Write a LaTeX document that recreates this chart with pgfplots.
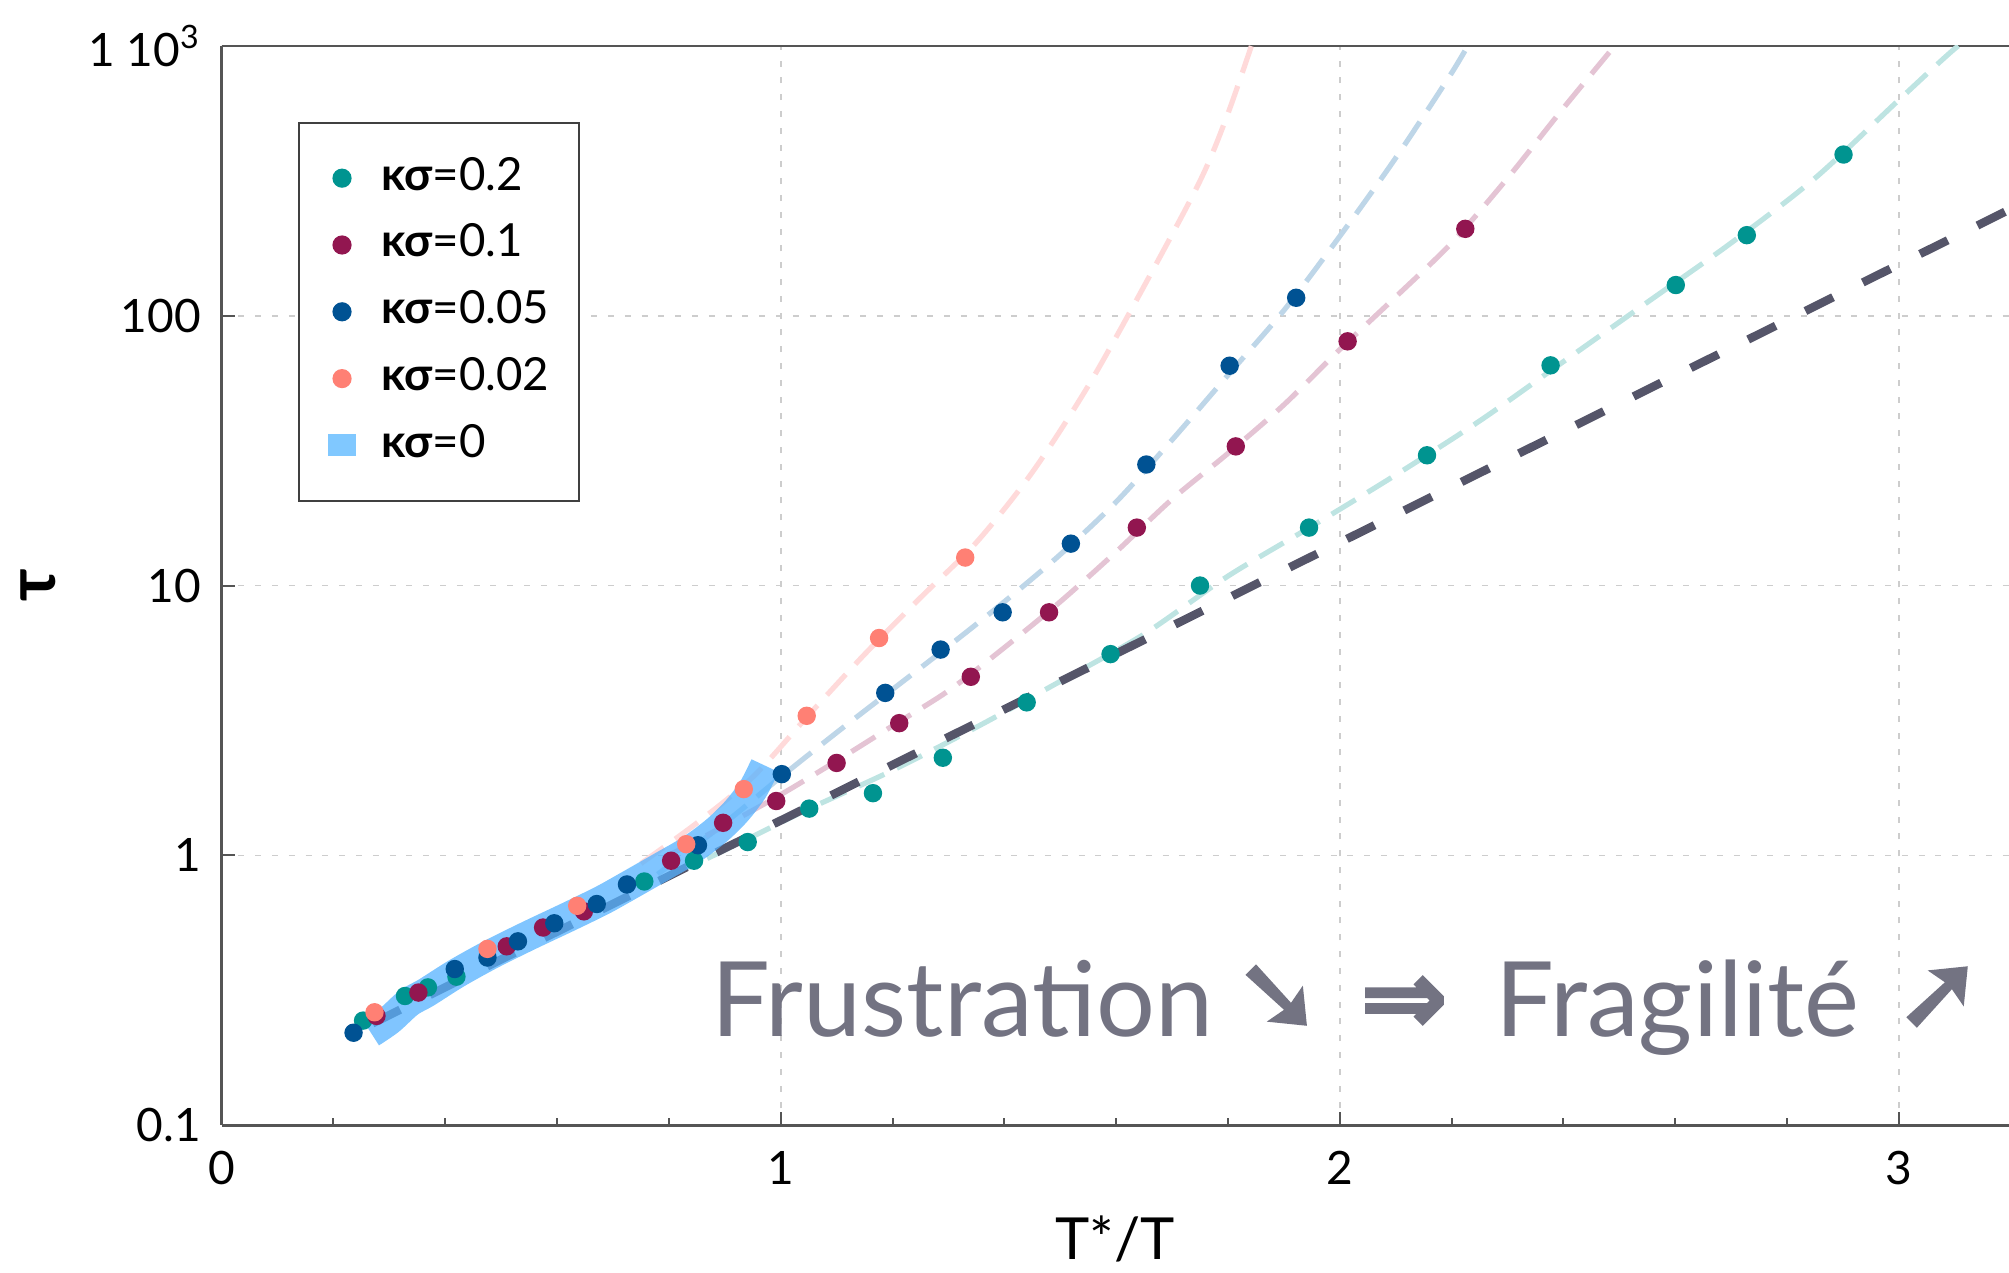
\documentclass[border=0pt]{standalone}
\usepackage{fontspec}
\setmainfont{Lato}
\newfontfamily\arrowfont{DejaVu Sans Bold}[FakeBold=2.5]
\usepackage{pgfplots}
\pgfplotsset{compat=1.18}
\usetikzlibrary{calc}

\definecolor{cteal}{RGB}{0,148,144}
\definecolor{cmaroon}{RGB}{146,22,80}
\definecolor{cblue}{RGB}{0,82,147}
\definecolor{csalmon}{RGB}{255,128,116}
\definecolor{cband}{RGB}{85,178,255}
\definecolor{cbandl}{RGB}{128,200,255}
\definecolor{lteal}{RGB}{190,228,226}
\definecolor{lblue}{RGB}{190,214,232}
\definecolor{lmaroon}{RGB}{228,196,212}
\definecolor{lpink}{RGB}{255,218,218}
\definecolor{cdark}{RGB}{85,85,105}
\definecolor{annoc}{RGB}{115,115,130}
\definecolor{cgrid}{RGB}{205,205,205}
\definecolor{caxis}{RGB}{85,85,85}

\begin{document}
\begin{tikzpicture}
\begin{axis}[
  name=ax, at={(0pt,0pt)}, anchor=south west,
  scale only axis, width=446.8pt, height=269.75pt,
  xmin=0, xmax=3.197, ymin=0.1, ymax=1000, ymode=log,
  axis x line*=box, axis y line*=left,
  axis line style={draw=caxis, line width=0.7pt},
  tick pos=left, tick align=inside,
  xtick={0,1,2,3}, xticklabels={0,1,2,3},
  minor x tick num=4,
  ytick={0.1,1,10,100,1000}, yticklabels={0.1,1,10,100,{1 10\textsuperscript{3}}},
  yminorticks=false,
  major tick length=3.3pt, minor tick length=1.8pt,
  every tick/.style={caxis, line width=0.5pt},
  xmajorgrids, ymajorgrids,
  major grid style={cgrid, line width=0.4pt, dash pattern=on 1.5pt off 2.7pt},
  tick label style={font=\fontsize{11.5}{13}\selectfont, text=black},
  xticklabel style={anchor=base, yshift=-14.75pt},
  yticklabel style={anchor=east, inner sep=0pt, xshift=-5pt},
  xlabel={T*/T}, ylabel={\textbf{τ}},
  every axis x label/.style={at={(axis description cs:0.5,0)}, anchor=base, yshift=-33.5pt, font=\fontsize{14.5}{16}\selectfont},
  every axis y label/.style={at={(axis description cs:0,0.5)}, xshift=-45.9pt, rotate=90, anchor=center, font=\fontsize{17}{19}\selectfont},
  legend cell align=left,
  legend style={at={(axis description cs:0.04286,0.92994)}, anchor=north west,
    draw=black!75, line width=0.5pt, fill=white,
    inner xsep=2pt, inner ysep=7.9pt, row sep=4.7pt, column sep=0.5pt,
    font=\fontsize{11.4}{13}\selectfont,
    nodes={inner sep=1pt, text height=8pt, text depth=2pt}},
]
% legend
\addlegendimage{legend image code/.code={\path[draw=none,fill=none] (0pt,-2pt) rectangle (17pt,2pt); \fill[cteal, draw=none] (8.7pt,0pt) circle (2.4pt);}}
\addlegendentry{\makebox[46.5pt][l]{\textbf{κσ}=0.2}}
\addlegendimage{legend image code/.code={\path[draw=none,fill=none] (0pt,-2pt) rectangle (17pt,2pt); \fill[cmaroon, draw=none] (8.7pt,0pt) circle (2.4pt);}}
\addlegendentry{\textbf{κσ}=0.1}
\addlegendimage{legend image code/.code={\path[draw=none,fill=none] (0pt,-2pt) rectangle (17pt,2pt); \fill[cblue, draw=none] (8.7pt,0pt) circle (2.4pt);}}
\addlegendentry{\textbf{κσ}=0.05}
\addlegendimage{legend image code/.code={\path[draw=none,fill=none] (0pt,-2pt) rectangle (17pt,2pt); \fill[csalmon, draw=none] (8.7pt,0pt) circle (2.4pt);}}
\addlegendentry{\textbf{κσ}=0.02}
\addlegendimage{legend image code/.code={\path[draw=none,fill=none] (0pt,-2pt) rectangle (17pt,2pt); \fill[cbandl, draw=none] (5.2pt,-2.75pt) rectangle (12.2pt,2.75pt);}}
\addlegendentry{\textbf{κσ}=0}

% fits (light dashed)
\addplot[lpink, line width=1.3pt, dash pattern=on 7pt off 3.5pt, smooth, forget plot] coordinates {
(0.75,0.933) (0.85,1.318) (0.95,1.950) (1.05,3.311) (1.15,5.559) (1.25,9.016) (1.35,14.45) (1.45,26.30) (1.55,54.95) (1.65,128.8) (1.75,316.2) (1.80,562.3) (1.85,1122)};
\addplot[lblue, line width=1.3pt, dash pattern=on 7pt off 3.5pt, smooth, forget plot] coordinates {
(0.78,0.851) (0.90,1.318) (1.00,1.950) (1.10,2.851) (1.20,4.121) (1.30,5.957) (1.40,8.710) (1.50,13.03) (1.60,20.42) (1.70,34.67) (1.80,60.26) (1.90,104.7) (2.00,197.2) (2.10,384.6) (2.20,794.3) (2.24,1100)};
\addplot[lmaroon, line width=1.3pt, dash pattern=on 7pt off 3.5pt, smooth, forget plot] coordinates {
(0.80,1.0) (0.90,1.288) (1.00,1.679) (1.10,2.239) (1.20,3.020) (1.30,4.074) (1.40,5.888) (1.50,8.710) (1.60,13.34) (1.70,20.89) (1.80,30.90) (1.90,46.77) (2.00,74.99) (2.10,117.5) (2.20,186.2) (2.30,323.6) (2.40,588.8) (2.50,1050)};
\addplot[lteal, line width=1.3pt, dash pattern=on 7pt off 3.5pt, smooth, forget plot] coordinates {
(0.80,0.841) (0.86,0.955) (0.95,1.175) (1.05,1.486) (1.20,2.065) (1.35,2.985) (1.50,4.416) (1.65,6.607) (1.80,10.84) (1.95,16.60) (2.10,25.70) (2.25,40.74) (2.40,67.61) (2.55,112.2) (2.70,186.2) (2.85,323.6) (3.00,631.0) (3.10,977.2) (3.15,1150)};
% Arrhenius line
\addplot[cdark, line width=2.1pt, dash pattern=on 7.7pt off 8.3pt, forget plot] coordinates {(0.27,0.2383) (3.3,315.5)};

% data
\addplot[only marks, mark=*, mark size=2.1pt, color=cteal, mark options={draw=none}, forget plot] coordinates {
(0.253,0.244) (0.328,0.301) (0.369,0.324) (0.420,0.355) (0.756,0.80) (0.845,0.955) (0.941,1.12) (1.051,1.49) (1.165,1.70) (1.290,2.30) (1.440,3.69) (1.590,5.57) (1.750,10.0) (1.945,16.4) (2.156,30.4) (2.377,65.5) (2.601,130) (2.728,199) (2.901,396)};
\addplot[only marks, mark=*, mark size=2.1pt, color=cmaroon, mark options={draw=none}, forget plot] coordinates {
(0.277,0.254) (0.352,0.31) (0.51,0.46) (0.575,0.54) (0.648,0.62) (0.804,0.955) (0.897,1.32) (0.992,1.59) (1.100,2.20) (1.212,3.09) (1.340,4.59) (1.480,7.96) (1.637,16.4) (1.814,32.8) (2.014,80.4) (2.2245,210)};
\addplot[only marks, mark=*, mark size=2.1pt, color=cblue, mark options={draw=none}, forget plot] coordinates {
(0.236,0.220) (0.417,0.379) (0.4755,0.418) (0.530,0.48) (0.595,0.56) (0.671,0.66) (0.725,0.78) (0.852,1.09) (1.002,2.0) (1.187,4.0) (1.286,5.79) (1.397,7.96) (1.519,14.3) (1.654,28.1) (1.803,65.3) (1.922,116.6)};
\addplot[only marks, mark=*, mark size=2.1pt, color=csalmon, mark options={draw=none}, forget plot] coordinates {
(0.2735,0.262) (0.4755,0.45) (0.636,0.65) (0.831,1.10) (0.934,1.76) (1.0465,3.29) (1.176,6.39) (1.330,12.7)};

% kappa sigma = 0 band
\addplot[cband, opacity=0.75, line width=7.5pt, line cap=butt, line join=round, smooth, forget plot] coordinates {
(0.267,0.220) (0.30,0.245) (0.335,0.285) (0.366,0.31) (0.42,0.365) (0.482,0.43) (0.55,0.505) (0.619,0.59) (0.68,0.68) (0.722,0.76) (0.78,0.89) (0.83,1.02) (0.859,1.12) (0.89,1.26) (0.921,1.46) (0.95,1.75) (0.972,2.15)};
\end{axis}

\begin{scope}[font=\fontsize{26}{30}\selectfont, every node/.style={inner sep=0pt, text=annoc}]
\node[anchor=base west] at (122.25pt,22.1pt) {Frustration};
\node[anchor=center] at (264.1pt,31.75pt) {\arrowfont ➘};
\node[anchor=center] at (295.6pt,30pt) {\arrowfont ⇒};
\node[anchor=base west] at (318.3pt,22.1pt) {Fragilité};
\node[anchor=center] at (429.3pt,31.9pt) {\arrowfont ➚};
\end{scope}

\pgfresetboundingbox
\useasboundingbox (-55.4pt,-36.75pt) rectangle (446.8pt,281.25pt);
\end{tikzpicture}
\end{document}
